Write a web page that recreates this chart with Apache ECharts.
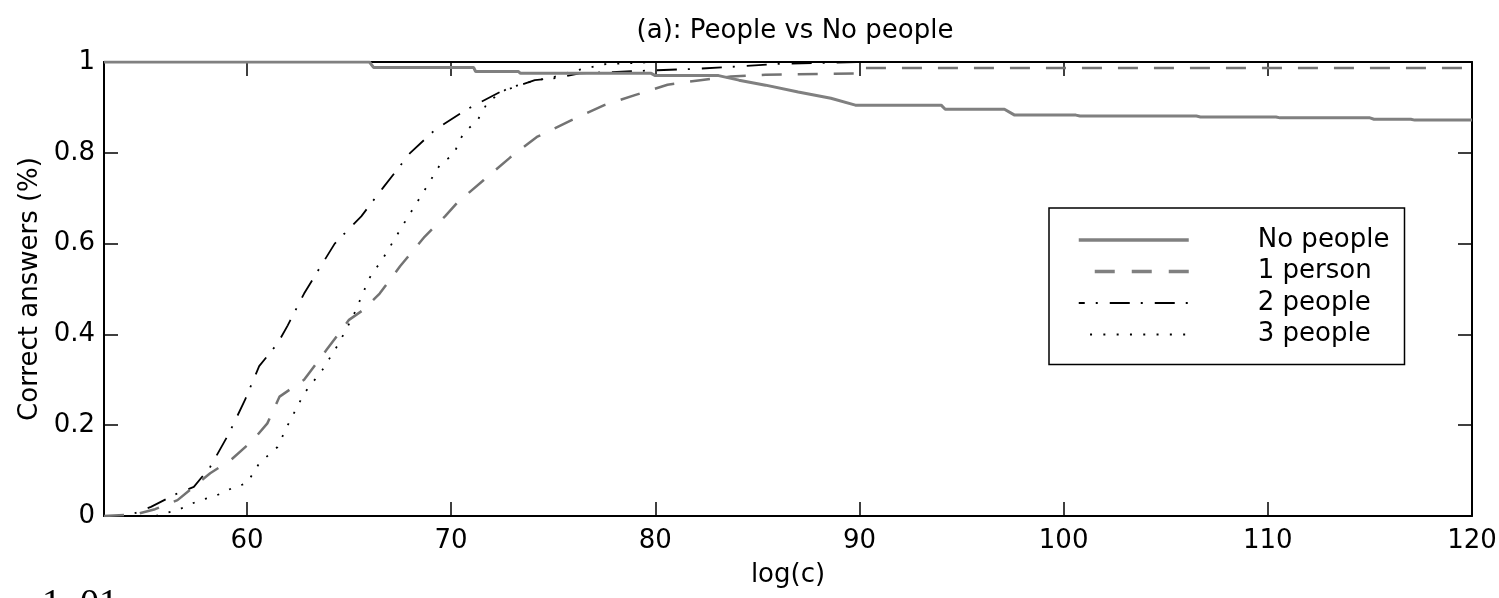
<!DOCTYPE html>
<html>
<head>
<meta charset="utf-8">
<script src="https://cdn.jsdelivr.net/npm/echarts@6/dist/echarts.min.js"></script>
<style>
html,body{margin:0;padding:0;background:#fff;}
#chart{width:1499px;height:598px;}
</style>
</head>
<body>
<div id="chart"></div>
<script>
// ---- data ----
const seriesNames = ["No people", "1 person", "2 people", "3 people"];

const xNoPeople = [53, 66, 66.2, 71.1, 71.2, 73.3, 73.4, 79.8, 80, 83.1, 84.1, 85.4, 87, 88.6, 89.8, 94, 94.2, 97.1, 97.6, 100.6, 100.8, 106.5, 106.7, 110.4, 110.6, 115, 115.2, 117, 117.2, 120];
const yNoPeople = [1, 1, 0.988, 0.988, 0.979, 0.979, 0.975, 0.975, 0.97, 0.97, 0.96, 0.949, 0.934, 0.92, 0.905, 0.905, 0.896, 0.896, 0.883, 0.883, 0.881, 0.881, 0.879, 0.879, 0.877, 0.877, 0.874, 0.874, 0.872, 0.872];

const xOnePerson = [53, 54.5, 55.5, 56.6, 58.2, 59.2, 60.3, 61, 61.6, 62.8, 63.9, 65, 65.7, 66.5, 67.5, 68.7, 69.7, 70.3, 71.6, 72.9, 74.2, 75.9, 77.5, 79, 80.6, 82.2, 83.7, 85.4, 89.9, 90, 120];
const yOnePerson = [0, 0.003, 0.015, 0.035, 0.094, 0.123, 0.167, 0.204, 0.263, 0.3, 0.366, 0.432, 0.454, 0.49, 0.55, 0.615, 0.66, 0.69, 0.74, 0.79, 0.835, 0.872, 0.905, 0.927, 0.95, 0.96, 0.968, 0.972, 0.975, 0.987, 0.987];

const xTwoPeople = [53, 54, 54.5, 55.3, 56.6, 57.4, 58.2, 59.1, 59.9, 60.6, 61.5, 62, 62.8, 63.3, 64.3, 65.6, 66.7, 68, 69.2, 70.7, 72.4, 74.1, 75.2, 76.3, 79, 82, 84, 86, 90, 120];
const yTwoPeople = [0, 0, 0.006, 0.02, 0.05, 0.064, 0.108, 0.18, 0.255, 0.33, 0.38, 0.42, 0.49, 0.527, 0.6, 0.66, 0.725, 0.8, 0.85, 0.894, 0.934, 0.96, 0.965, 0.975, 0.98, 0.985, 0.99, 0.996, 1, 1];

const xThreePeople = [53, 55.5, 56.6, 57.7, 58.4, 59.4, 60, 60.6, 61.5, 62, 62.8, 63.7, 64.5, 65.2, 66, 66.7, 67.7, 68.8, 69.5, 70.1, 70.6, 71.3, 71.8, 72.8, 74.2, 74.9, 76, 77.5, 80, 120];
const yThreePeople = [0, 0, 0.013, 0.035, 0.043, 0.064, 0.072, 0.116, 0.152, 0.2, 0.27, 0.322, 0.38, 0.44, 0.524, 0.57, 0.645, 0.725, 0.777, 0.795, 0.843, 0.872, 0.912, 0.943, 0.96, 0.965, 0.98, 0.995, 1, 1];

const xTicks = [60, 70, 80, 90, 100, 110, 120];
const xMin = 53, xMax = 120;

// ---- helpers ----
const zip = (xs, ys) => xs.map((x, i) => [x, ys[i]]);
const FONT = 'DejaVu Sans, Liberation Sans, Arial, sans-serif';
const FS = 26;

const chart = echarts.init(document.getElementById('chart'), null, {renderer: 'canvas'});

const lineStyles = [
  {color: '#808080', width: 3, type: 'solid'},
  {color: '#737373', width: 2.5, type: [20, 16]},
  {color: '#000000', width: 1.8, type: [20, 11, 2, 12]},
  {color: '#000000', width: 1.8, type: [2, 11]}
];
// legend sample tweaks (line thickness and dash phase of the key)
const legendLine = [
  {width: 3.5, type: 'solid', color: '#808080'},
  {width: 3.5, type: [20, 17], dashOffset: 21, color: '#808080'},
  {width: 1.8, type: [20, 11, 2, 12], dashOffset: 14, color: '#000'},
  {width: 1.8, type: [2, 11.3], dashOffset: 2, color: '#000'}
];
const datas = [
  zip(xNoPeople, yNoPeople),
  zip(xOnePerson, yOnePerson),
  zip(xTwoPeople, yTwoPeople),
  zip(xThreePeople, yThreePeople)
];

const tickStyle = {show: true, inside: true, length: 14, lineStyle: {color: '#000', width: 1.5}};
const lineAx = {show: true, onZero: false, lineStyle: {color: '#000', width: 2}};

chart.setOption({
  animation: false,
  backgroundColor: '#fff',
  title: {
    text: '(a): People vs No people',
    left: 790, top: 13, textAlign: 'center',
    textStyle: {fontFamily: FONT, fontSize: FS, fontWeight: 'normal', color: '#000'}
  },
  grid: {left: 104, right: 27, top: 62, bottom: 82, containLabel: false, outerBoundsMode: 'none'},
  legend: {
    orient: 'vertical',
    left: 1049, top: 208,
    backgroundColor: '#fff',
    borderColor: '#000', borderWidth: 1.5,
    padding: [19, 15, 17, 28],
    itemWidth: 110, itemHeight: 14, itemGap: 5.5,
    itemStyle: {opacity: 0, color: 'rgba(0,0,0,0)', borderWidth: 0},
    textStyle: {fontFamily: FONT, fontSize: FS, color: '#000', padding: [0, 0, 0, 64]},
    data: seriesNames.map((n, i) => ({name: n, lineStyle: legendLine[i]}))
  },
  xAxis: [
    {
      type: 'value', min: xMin, max: xMax, position: 'bottom',
      axisLine: lineAx, splitLine: {show: false},
      axisTick: Object.assign({}, tickStyle, {customValues: xTicks}),
      axisLabel: {customValues: xTicks, color: '#000', fontFamily: FONT, fontSize: FS, margin: 12},
      name: 'log(c)', nameLocation: 'middle', nameGap: 46,
      nameTextStyle: {fontFamily: FONT, fontSize: FS, color: '#000'}
    },
    {
      type: 'value', min: xMin, max: xMax, position: 'top',
      axisLine: lineAx, splitLine: {show: false},
      axisTick: Object.assign({}, tickStyle, {customValues: xTicks}),
      axisLabel: {show: false}
    }
  ],
  yAxis: [
    {
      type: 'value', min: 0, max: 1, interval: 0.2, position: 'left',
      axisLine: lineAx, splitLine: {show: false}, axisTick: tickStyle,
      axisLabel: {color: '#000', fontFamily: FONT, fontSize: FS, margin: 9},
      name: 'Correct answers (%)', nameLocation: 'middle', nameGap: 57,
      nameTextStyle: {fontFamily: FONT, fontSize: FS, color: '#000'}
    },
    {
      type: 'value', min: 0, max: 1, interval: 0.2, position: 'right',
      axisLine: lineAx, splitLine: {show: false}, axisTick: tickStyle,
      axisLabel: {show: false}
    }
  ],
  series: seriesNames.map((n, i) => ({
    name: n, type: 'line', data: datas[i], symbol: 'none', showSymbol: false,
    xAxisIndex: 0, yAxisIndex: 0,
    lineStyle: lineStyles[i], itemStyle: {color: lineStyles[i].color},
    z: 10 - i
  })),
  graphic: [{
    type: 'text', left: 42, top: 586, z: 100,
    style: {text: '1. 01', fontFamily: 'Liberation Serif, Times New Roman, serif', fontSize: 38, fill: '#000'}
  }]
});
</script>
</body>
</html>
